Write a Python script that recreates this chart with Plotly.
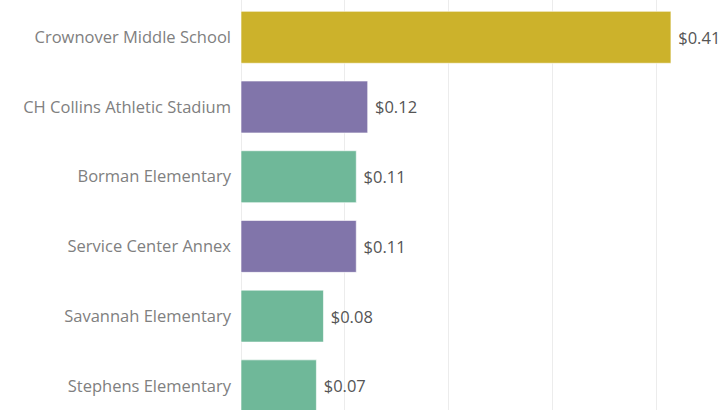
import plotly.graph_objects as go

categories = ["Crownover Middle School", "CH Collins Athletic Stadium", "Borman Elementary",
              "Service Center Annex", "Savannah Elementary", "Stephens Elementary"]
values = [0.414, 0.122, 0.111, 0.111, 0.0794, 0.0726]
labels = ["$0.41", "$0.12", "$0.11", "$0.11", "$0.08", "$0.07"]
colors = ["#ccb22b", "#8175aa", "#6fb899", "#8175aa", "#6fb899", "#6fb899"]

fig = go.Figure(go.Bar(
    y=categories, x=values, orientation="h",
    marker=dict(color=colors, line=dict(color="rgba(255,255,255,0.6)", width=1)),
    width=0.745,
    text=labels, texttemplate="\u00a0%{text}", textposition="outside", cliponaxis=False,
    textfont=dict(family="Open Sans", size=16.5, color="#555555"),
    hoverinfo="skip",
))

fig.update_layout(
    width=718, height=410,
    margin=dict(l=241, r=0, t=0, b=0),
    plot_bgcolor="white", paper_bgcolor="white",
    showlegend=False,
    font=dict(family="Open Sans", size=16.5, color="#808080"),
    bargap=0.25,
)
fig.update_xaxes(range=[0, 0.4593], dtick=0.1, showgrid=True, gridcolor="#ececec",
                 gridwidth=1, zeroline=True, zerolinecolor="#ececec", zerolinewidth=1,
                 showticklabels=False, showline=False)
fig.update_yaxes(range=[5.347, -0.535], showgrid=False, zeroline=False, showline=False,
                 ticks="", ticklabelstandoff=9,
                 tickfont=dict(family="Open Sans", size=16.5, color="#808080"))

fig.write_html("out.html", config={"displayModeBar": False},
               post_script="document.body.style.margin='0';document.body.style.overflow='hidden';")
